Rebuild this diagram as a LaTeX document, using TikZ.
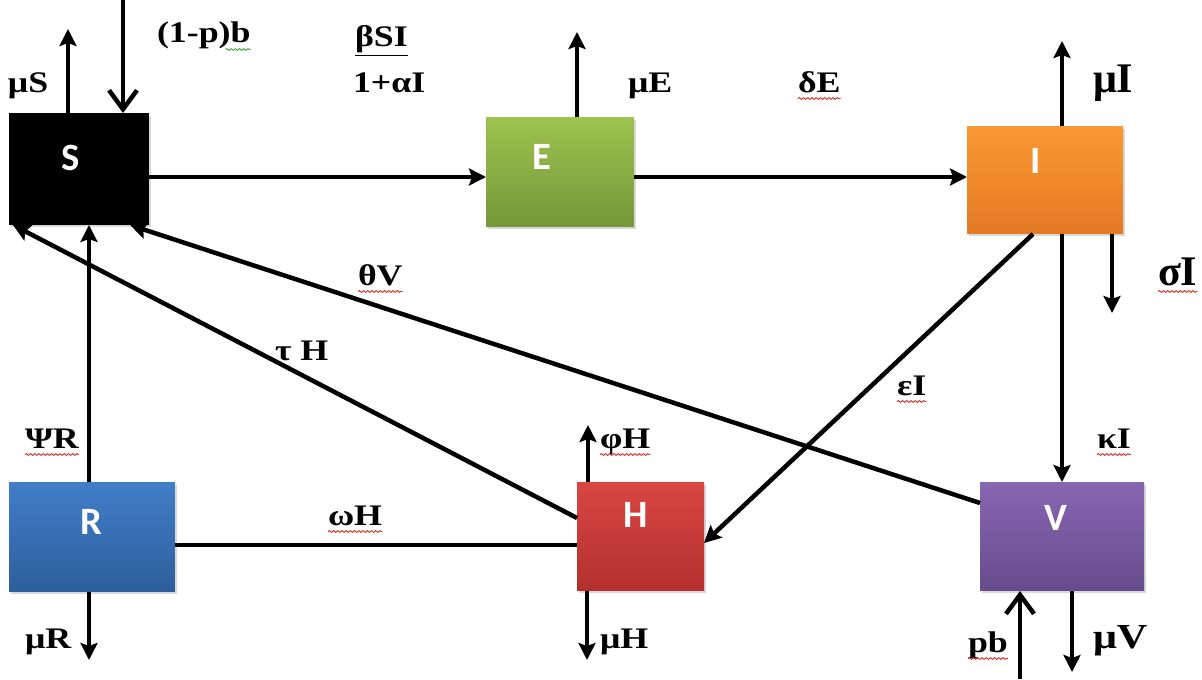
\documentclass[tikz,border=0pt]{standalone}
\usepackage{fontspec}
\usetikzlibrary{arrows.meta,shadows,decorations.pathmorphing,calc}
\newfontfamily\lblfont[FakeStretch=1.2]{Liberation Serif}
\newfontfamily\bigfont{Liberation Serif}
\newfontfamily\boxfont{Carlito}

\definecolor{Etop}{RGB}{158,194,78}\definecolor{Ebot}{RGB}{118,150,58}
\definecolor{Itop}{RGB}{250,152,50}\definecolor{Ibot}{RGB}{226,122,36}
\definecolor{Rtop}{RGB}{64,126,200}\definecolor{Rbot}{RGB}{46,94,156}
\definecolor{Htop}{RGB}{216,70,66}\definecolor{Hbot}{RGB}{180,48,44}
\definecolor{Vtop}{RGB}{136,102,178}\definecolor{Vbot}{RGB}{102,76,140}
\definecolor{squigred}{RGB}{220,40,30}
\definecolor{squiggreen}{RGB}{60,160,60}

% wavy spell-check style underline below a label node
\newcommand\wavyunder[2][squigred]{%
  \draw[squig,#1] ([yshift=-0.13cm]#2.base west) -- ([yshift=-0.13cm]#2.base east);}

\begin{document}
\begin{tikzpicture}[x=0.02cm,y=-0.02cm,
  comp/.style={rectangle, draw=none, inner sep=0pt, outer sep=0pt,
    drop shadow={opacity=0.3,shadow xshift=0.04cm,shadow yshift=-0.05cm}},
  letter/.style={text=white, font=\boxfont\bfseries\fontsize{22}{25}\selectfont, inner sep=0pt},
  lab/.style={inner sep=0pt, outer sep=0pt, anchor=base west,
    font=\lblfont\bfseries\fontsize{17}{20}\selectfont},
  biglab/.style={lab, font=\bigfont\bfseries\fontsize{24}{28}\selectfont},
  midlab/.style={lab, font=\lblfont\bfseries\fontsize{20}{23}\selectfont},
  flow/.style={line width=0.09cm, -{Stealth[length=0.34cm,width=0.34cm,inset=0.06cm]}},
  inflow/.style={line width=0.09cm, -{Straight Barb[length=0.38cm,width=0.56cm]}},
  plain/.style={line width=0.09cm},
  squig/.style={line width=0.5pt, decorate,
    decoration={snake, amplitude=0.5pt, segment length=2.4pt}},
]
\useasboundingbox[fill=white] (0,0) rectangle (1202,679);

% compartments
\node[comp, fill=black, minimum width=2.8cm, minimum height=2.24cm] (S) at (79,169) {};
\node[comp, top color=Etop, bottom color=Ebot, minimum width=2.96cm, minimum height=2.2cm] (E) at (560,172) {};
\node[comp, top color=Itop, bottom color=Ibot, minimum width=3.12cm, minimum height=2.16cm] (I) at (1045,180) {};
\node[comp, top color=Rtop, bottom color=Rbot, minimum width=3.32cm, minimum height=2.2cm] (R) at (92,537) {};
\node[comp, top color=Htop, bottom color=Hbot, minimum width=2.54cm, minimum height=2.18cm] (H) at (640.5,536.5) {};
\node[comp, top color=Vtop, bottom color=Vbot, minimum width=3.28cm, minimum height=2.18cm] (V) at (1062,536.5) {};

\node[letter] (Stxt) at (71,158) {S};
\node[letter] (Etxt) at (542,157) {E};
\node[letter] (Itxt) at (1036,161) {I};
\node[letter] (Rtxt) at (91,522) {R};
\node[letter] (Htxt) at (636,515) {H};
\node[letter] (Vtxt) at (1056,518) {V};

% free ends of inflows and outflows
\coordinate (tS) at (68,29);
\coordinate (bin) at (123,0);
\coordinate (tE) at (577,32);
\coordinate (tI) at (1062,41);
\coordinate (tsig) at (1112,313);
\coordinate (tphi) at (588,425);
\coordinate (tmuH) at (587,660);
\coordinate (tmuR) at (89,660);
\coordinate (pbin) at (1020,679);
\coordinate (tmuV) at (1072,672);

% flows
\draw[flow] (tS |- S.north) -- (tS);
\draw[inflow] (bin) -- (bin |- S.north);
\draw[flow] (tE |- E.north) -- (tE);
\draw[flow] ([yshift=-0.16cm]S.east) -- ([yshift=-0.16cm]S.east -| E.west);
\draw[flow] ([yshift=-0.1cm]E.east) -- ([yshift=-0.1cm]E.east -| I.west);
\draw[flow] (tI |- I.north) -- (tI);
\draw[flow] (tsig |- I.south) -- (tsig);
\draw[flow] (V.north |- I.south) -- (V.north);
\draw[flow] ([xshift=-0.24cm]I.south) -- ([yshift=-0.13cm]H.east);
\draw[flow] ([yshift=0.67cm]V.west) -- ([xshift=1.02cm]S.south);
\draw[flow] ([yshift=0.37cm]H.west) -- ([xshift=0.08cm]S.south west);
\draw[flow] ([xshift=-0.06cm]R.north) -- ([xshift=-0.06cm]R.north |- S.south);
\draw[plain] ([yshift=-0.16cm]R.east) -- ([yshift=-0.16cm]R.east -| H.west);
\draw[flow] (tphi |- H.north) -- (tphi);
\draw[flow] (tmuH |- H.south) -- (tmuH);
\draw[flow] (tmuR |- R.south) -- (tmuR);
\draw[inflow] (pbin) -- (pbin |- V.south);
\draw[flow] (tmuV |- V.south) -- (tmuV);

% rate labels
\node[lab] (lmuS) at (8,92) {μS};
\node[lab] (lbirth) at (157,43) {(1-p)b};
\node[lab] (lbeta) at (355,47) {\underline{βSI}};
\node[lab] (lalpha) at (353,92) {1+αI};
\node[lab] (lmuE) at (628,92) {μE};
\node[lab] (ldelta) at (798,92) {δE};
\node[biglab] (lmuI) at (1093,92) {μI};
\node[biglab] (lsigma) at (1158,285) {σI};
\node[lab] (ltheta) at (358,285) {θV};
\node[lab] (ltau) at (275,360) {τ H};
\node[lab] (leps) at (897,395) {εI};
\node[lab] (lkappa) at (1097,448) {κI};
\node[lab] (lpsi) at (25,448) {ΨR};
\node[lab] (lomega) at (328,525) {ωH};
\node[lab] (lphi) at (600,448) {φH};
\node[lab] (lmuH) at (600,648) {μH};
\node[lab] (lmuR) at (25,648) {μR};
\node[lab] (lpb) at (968,652) {pb};
\node[midlab] (lmuV) at (1093,648) {μV};

% spell-check underlines
\wavyunder{ldelta}
\wavyunder{lsigma}
\wavyunder{ltheta}
\wavyunder{leps}
\wavyunder{lkappa}
\wavyunder{lpsi}
\wavyunder{lomega}
\wavyunder{lphi}
\wavyunder{lpb}
\draw[squig,squiggreen] ([xshift=-0.5cm,yshift=-0.13cm]lbirth.base east) -- ([yshift=-0.13cm]lbirth.base east);
\end{tikzpicture}
\end{document}
